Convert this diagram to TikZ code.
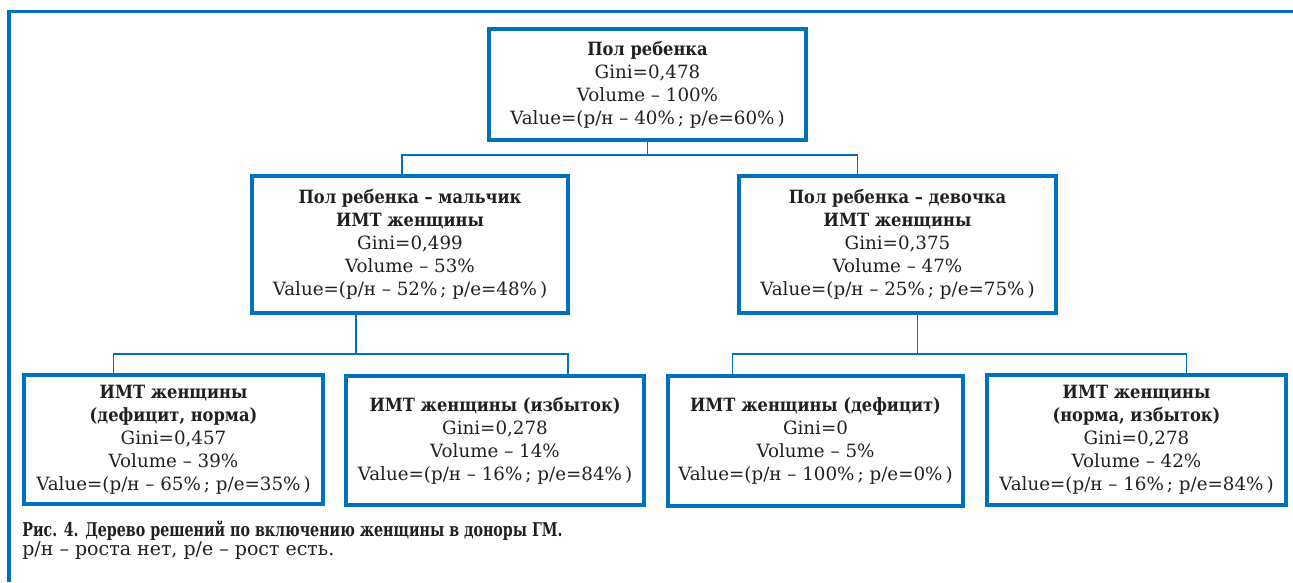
\documentclass[tikz,border=0pt]{standalone}
\usepackage{fontspec}
\setmainfont{DejaVu Serif}[BoldFeatures={FakeStretch=0.89}]
\newfontfamily\capfont{DejaVu Serif}[BoldFeatures={FakeStretch=0.75}]
\usetikzlibrary{calc}
\definecolor{blu}{RGB}{0,112,192}
\definecolor{ink}{RGB}{35,31,32}

\begin{document}
\begin{tikzpicture}[x=0.02cm,y=-0.02cm]
\tikzstyle{every node}=[text=ink,font=\fontsize{10.4}{13.1}\selectfont,align=center,inner sep=0pt]
\tikzstyle{box}=[draw=blu,line width=1.9pt]
\tikzstyle{link}=[draw=blu,line width=1.1pt]
\useasboundingbox (0,0) rectangle (1293,582);
\draw[blu,line width=1.9pt] (9,582) -- (9,11.5) -- (1293,11.5);

\node (PR) [box,minimum width=6.34cm,minimum height=2.22cm] at (647.5,84.5) {\textbf{Пол ребенка}\\Gini=0,478\\Volume – 100\%\\Value=(р/н – 40\%\,; р/е=60\%\,)};
\node (ML) [box,minimum width=6.32cm,minimum height=2.74cm] at (410,244.5) {\textbf{Пол ребенка – мальчик}\\\textbf{ИМТ женщины}\\Gini=0,499\\Volume – 53\%\\Value=(р/н – 52\%\,; р/е=48\%\,)};
\node (DV) [box,minimum width=6.34cm,minimum height=2.74cm] at (897.5,244.5) {\textbf{Пол ребенка – девочка}\\\textbf{ИМТ женщины}\\Gini=0,375\\Volume – 47\%\\Value=(р/н – 25\%\,; р/е=75\%\,)};
\node (DN) [box,minimum width=5.98cm,minimum height=2.58cm] at (173.5,439.5) {\textbf{ИМТ женщины}\\\textbf{(дефицит, норма)}\\Gini=0,457\\Volume – 39\%\\Value=(р/н – 65\%\,; р/е=35\%\,)};
\node (IZ) [box,minimum width=5.96cm,minimum height=2.58cm] at (495,440.5) {\textbf{ИМТ женщины (избыток)}\\Gini=0,278\\Volume – 14\%\\Value=(р/н – 16\%\,; р/е=84\%\,)};
\node (DF) [box,minimum width=5.9cm,minimum height=2.6cm] at (815.5,441) {\textbf{ИМТ женщины (дефицит)}\\Gini=0\\Volume – 5\%\\Value=(р/н – 100\%\,; р/е=0\%\,)};
\node (NI) [box,minimum width=5.98cm,minimum height=2.6cm] at (1136.5,440) {\textbf{ИМТ женщины}\\\textbf{(норма, избыток)}\\Gini=0,278\\Volume – 42\%\\Value=(р/н – 16\%\,; р/е=84\%\,)};

% root split
\coordinate (J1) at ($(PR.south)+(0,13)$);
\draw[link] (PR.south) -- (J1);
\draw[link] ($(ML.north)+(-8,0)$) |- (J1) -| ($(DV.north)+(-40,0)$);
% left split
\coordinate (J2) at ($(ML.south)+(-54,39)$);
\draw[link] ($(ML.south)+(-54,0)$) -- (J2);
\draw[link] ($(DN.north)+(-60,0)$) |- (J2) -| ($(IZ.north)+(73,0)$);
% right split
\coordinate (J3) at ($(DV.south)+(20,39)$);
\draw[link] ($(DV.south)+(20,0)$) -- (J3);
\draw[link] ($(DF.north)+(-83,0)$) |- (J3) -| ($(NI.north)+(50,0)$);

\node (CAP) [anchor=west,font=\fontsize{10.8}{13}\capfont\bfseries] at (22,531) {Рис. 4. Дерево решений по включению женщины в доноры ГМ.};
\node (NOTE) [anchor=west,font=\fontsize{10.8}{13}\selectfont] at (22,551) {р/н – роста нет, р/е – рост есть.};
\end{tikzpicture}
\end{document}
